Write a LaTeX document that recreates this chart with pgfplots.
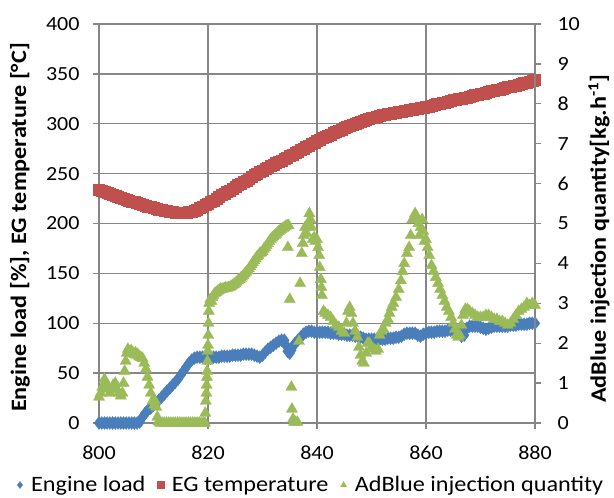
\documentclass[border=0pt]{standalone}
\usepackage{fontspec}
\setmainfont{Carlito}[FakeStretch=1.1]
\usepackage{pgfplots}
\pgfplotsset{compat=1.18}
\definecolor{gridgray}{RGB}{134,134,134}
\definecolor{cblue}{RGB}{74,126,187}
\definecolor{cred}{RGB}{192,80,77}
\definecolor{cgreen}{RGB}{155,187,89}
\newcommand\fs{\fontsize{20bp}{24bp}\selectfont}
\newcommand\fl{\fontsize{22bp}{26bp}\selectfont}
\newcommand\fg{\fontsize{22bp}{26bp}\selectfont}

\pgfplotstableread{
x y
800 0
800.5 0
801 0
801.5 0
802 0
802.5 0
803 0
803.5 0
804 0
804.5 0
805 0
805.5 0
806 0
806.5 0
807 0
807.5 1
808 6
808.5 10
809 13
809.5 15
810 18
810.5 20
811 23
811.5 26
812 29
812.5 32
813 35
813.5 38
814 41
814.5 44
815 48
815.5 52
816 56
816.5 60
817 63
817.5 65
818 66
818.5 66
819 66
819.5 65
820 65
820.5 65
821 66
821.5 66
822 66
822.5 67
823 67
823.5 67
824 67
824.5 68
825 68
825.5 68
826 68
826.5 69
827 69
827.5 69
828 69
828.5 68
829 67
829.5 66
830 68
830.5 71
831 74
831.5 76
832 78
832.5 80
833 82
833.5 83
834 83
834.3 78
834.6 72
835 70
835.3 73
835.6 77
836 80
836.5 83
837 86
837.5 89
838 91
838.5 92
839 92
839.5 91
840 91
840.5 91
841 91
841.5 91
842 91
842.5 90
843 90
843.5 90
844 89
844.5 89
845 89
845.5 88
846 88
846.5 88
847 87
847.5 87
848 86
848.5 85
849 84
849.5 84
850 84
850.5 84
851 84
851.5 84
852 84
852.5 84
853 85
853.5 85
854 85
854.5 86
855 86
855.5 87
856 89
856.5 90
857 90
857.5 90
858 90
858.5 88
859 87
859.5 89
860 90
860.5 91
861 91
861.5 91
862 92
862.5 92
863 92
863.5 92
864 93
864.5 93
865 93
865.5 93
866 92
866.5 87
867 88
867.5 95
868 97
868.5 97
869 97
869.5 97
870 96
870.5 95
871 94
871.5 95
872 96
872.5 97
873 97
873.5 97
874 97
874.5 97
875 97
875.5 98
876 98
876.5 98
877 99
877.5 99
878 99
878.5 99
879 100
879.5 100
880 100
}\loadtable

\pgfplotstableread{
x y
800 234
800.5 233
801 232
801.5 231
802 230
802.5 229
803 228
803.5 227
804 226
804.5 225
805 224
805.5 223
806 222
806.5 221.5
807 221
807.5 220
808 219
808.5 218
809 217
809.5 216.5
810 216
810.5 215
811 214
811.5 213.5
812 213
812.5 212.5
813 212
813.5 211.5
814 211
814.5 211
815 211
815.5 211
816 211
816.5 211.5
817 212
817.5 213
818 214
818.5 215.5
819 217
819.5 218.5
820 220
820.5 221.5
821 223
821.5 225
822 227
822.5 228.5
823 230
823.5 231.5
824 233
824.5 235
825 237
825.5 238.5
826 240
826.5 241.5
827 243
827.5 245
828 247
828.5 248.5
829 250
829.5 251.5
830 253
830.5 254.5
831 256
831.5 257.5
832 259
832.5 260.5
833 262
833.5 263.5
834 265
834.5 266.5
835 268
835.5 269.5
836 271
836.5 272.5
837 274
837.5 275.5
838 277
838.5 278.5
839 280
839.5 281.5
840 283
840.5 284.5
841 286
841.5 287
842 288
842.5 289.5
843 291
843.5 292
844 293
844.5 294.5
845 296
845.5 297
846 298
846.5 299
847 300
847.5 301
848 302
848.5 303
849 304
849.5 305
850 306
850.5 306.5
851 307
851.5 308
852 309
852.5 309.5
853 310
853.5 310.5
854 311
854.5 311.5
855 312
855.5 312.5
856 313
856.5 313.5
857 314
857.5 314.5
858 315
858.5 315.5
859 316
859.5 316.5
860 317
860.5 317.5
861 318
861.5 319
862 320
862.5 320.5
863 321
863.5 321.5
864 322
864.5 323
865 324
865.5 324.5
866 325
866.5 325.5
867 326
867.5 326.5
868 327
868.5 328
869 329
869.5 329.5
870 330
870.5 330.5
871 331
871.5 332
872 333
872.5 333.5
873 334
873.5 334.5
874 335
874.5 336
875 337
875.5 337.5
876 338
876.5 338.5
877 339
877.5 340
878 341
878.5 341.5
879 342
879.5 343
880 344
}\tempertable

\pgfplotstableread{
x y
800 0.65
800.3 0.75
800.6 0.9
801 1.1
801.3 1.0
801.6 0.85
802 0.75
802.3 0.85
802.6 0.95
803 1.0
803.3 0.85
803.6 0.75
804 0.68
804.3 0.75
804.5 1.0
804.7 1.3
804.9 1.55
805.1 1.75
805.3 1.85
805.5 1.8
805.7 1.78
805.9 1.82
806.1 1.76
806.3 1.75
806.5 1.72
806.7 1.76
806.9 1.7
807.1 1.72
807.3 1.68
807.5 1.66
807.7 1.64
808 1.62
808.3 1.5
808.6 1.35
808.9 1.15
809.2 0.95
809.5 0.75
809.8 0.55
810.1 0.45
810.3 0.55
810.5 0.4
810.7 0.15
810.9 0.03
811.2 0
811.6 0
812 0
812.4 0
812.8 0
813.2 0
813.6 0
814 0
814.4 0
814.8 0
815.2 0
815.6 0
816 0
816.4 0
816.8 0
817.2 0
817.6 0
818 0
818.4 0
818.8 0
819.2 0
819.45 0
819.5 0.25
819.6 0.55
819.7 0.75
819.75 0.95
819.8 1.15
819.85 1.3
819.9 1.55
819.95 1.8
820.0 1.95
820.05 2.2
820.1 2.5
820.15 2.8
820.2 3.0
820.4 3.1
820.6 3.05
820.8 3.15
821 3.2
821.25 3.25
821.5 3.27
821.75 3.3
822 3.32
822.25 3.36
822.5 3.35
822.75 3.36
823 3.37
823.25 3.39
823.5 3.38
823.75 3.4
824 3.4
824.25 3.43
824.5 3.45
824.75 3.47
825 3.5
825.25 3.53
825.5 3.57
825.75 3.6
826 3.63
826.25 3.66
826.5 3.7
826.75 3.74
827 3.78
827.25 3.82
827.5 3.87
827.75 3.92
828 3.97
828.25 4.02
828.5 4.07
828.75 4.12
829 4.17
829.25 4.2
829.5 4.25
829.75 4.27
830 4.3
830.25 4.36
830.5 4.4
830.75 4.45
831 4.5
831.25 4.55
831.5 4.6
831.75 4.64
832 4.67
832.25 4.7
832.5 4.73
832.75 4.77
833 4.8
833.25 4.83
833.5 4.85
833.75 4.88
834 4.9
834.25 4.93
834.5 4.95
834.8 4.95
834.65 4.4
835.0 3.1
835.3 0.9
835.4 0.35
835.6 0.1
835.8 0.02
836.1 0.02
836.4 0.02
836.7 2.05
836.9 3.5
837.2 4.25
837.4 4.5
837.6 4.7
837.8 4.9
838.1 4.75
838.3 5.0
838.6 5.25
838.8 5.1
839.0 4.9
839.2 4.6
839.5 4.65
839.7 4.55
840 4.6
840.2 4.4
840.4 4.2
840.5 3.9
840.7 3.6
840.8 3.4
840.9 3.2
841.2 2.8
841.5 2.75
842 2.7
842.5 2.65
843 2.55
843.5 2.45
844 2.4
844.5 2.3
845 2.25
845.4 2.5
845.7 2.8
846 2.9
846.3 2.75
846.6 2.5
847 2.3
847.4 2.15
847.7 1.9
848 1.7
848.3 1.55
848.6 1.5
849 1.75
849.3 2.0
849.6 2.0
850 1.9
850.4 1.85
850.8 1.8
851.2 1.85
851.5 2.2
851.8 2.3
852.2 2.35
852.6 2.5
853 2.6
853.3 2.75
853.7 2.9
854 3.0
854.5 3.15
855 3.35
855.4 3.57
855.7 3.8
856 4.0
856.5 4.25
856.9 4.4
857.2 4.7
857.5 5.1
858 5.25
858.3 5.15
858.6 5.0
858.8 4.7
859 4.9
859.3 5.1
859.5 4.8
859.7 4.55
860 4.6
860.3 4.4
860.6 4.2
861 3.95
861.4 3.8
861.8 3.65
862.2 3.5
862.6 3.35
863 3.2
863.4 3.05
863.8 2.9
864.2 2.8
864.6 2.65
865 2.5
865.3 2.35
865.6 2.2
865.9 2.15
866.2 2.2
866.5 2.45
866.8 2.7
867.2 2.85
867.6 2.85
868 2.8
868.5 2.75
869 2.7
869.5 2.65
870 2.65
870.5 2.65
871 2.7
871.5 2.7
872 2.65
872.5 2.6
873 2.6
873.5 2.55
874 2.55
874.5 2.5
875 2.45
875.5 2.5
876 2.6
876.5 2.7
877 2.8
877.5 2.85
878 2.9
878.5 3.0
879 2.95
879.5 3.0
880 2.95
}\adbluetable

\pgfplotsset{
  common/.style={
    at={(0,0)}, anchor=south west,
    scale only axis, width=436bp, height=399bp,
    xmin=800, xmax=880, clip=false,
    axis line style={gridgray, line width=1.3bp},
    tick style={gridgray, line width=1.3bp},
    tick align=outside, major tick length=6bp,
    ticklabel style={font=\fs, text=black},
    /pgf/number format/assume math mode=true,
    /pgf/number format/1000 sep={},
  },
  legimg/.style={legend image code/.code={\path (-1bp,0bp) (13bp,0bp); \draw[mark repeat=2,mark phase=2,##1] plot coordinates {(0bp,0bp)(4bp,0bp)(8bp,0bp)};}},
}

\begin{document}
\begin{tikzpicture}
\useasboundingbox (-99bp,-75bp) rectangle (515bp,423bp);
\begin{axis}[
  common,
  ymin=0, ymax=400,
  xtick={800,820,...,880}, ytick={0,50,...,400},
  grid=major, major grid style={gridgray, line width=1.3bp},
  xtick pos=bottom, ytick pos=left,
  yticklabel style={xshift=-10bp},
  xticklabel style={yshift=-13bp},
  ylabel={\bfseries Engine load [\%], EG temperature [°C]},
  ylabel style={font=\fl, at={(axis description cs:-0.181,0.49)}, anchor=center},
]
\addplot[only marks, mark=diamond*, mark size=6.5bp, color=cblue, mark options={line width=0.3bp}] table[x=x,y=y] {\loadtable};
\addplot[only marks, mark=square*, mark size=5.5bp, color=cred, mark options={line width=0.3bp}] table[x=x,y=y] {\tempertable};
\end{axis}
\begin{axis}[
  common,
  ymin=0, ymax=10, ytick={0,1,...,10},
  axis x line=none, axis y line*=right,
  yticklabel style={xshift=13bp},
  ylabel={\bfseries AdBlue injection quantity[kg.h\textsuperscript{-1}]},
  ylabel style={font=\fl, at={(axis description cs:1.147,0.462)}, anchor=center},
  legend columns=-1,
  legend style={draw=none, fill=none, font=\fg, at={(axis description cs:0.484,0)}, anchor=center, yshift=-62bp,
    /tikz/every even column/.append style={column sep=8bp}},
  legend image post style={mark size=3.5bp},
]
\addlegendimage{only marks, mark=diamond*, color=cblue, legimg}
\addlegendentry{Engine load}
\addlegendimage{only marks, mark=square*, color=cred, legimg}
\addlegendentry{EG temperature}
\addplot[only marks, mark=triangle*, mark size=6.5bp, color=cgreen, mark options={line width=0.3bp}, legimg] table[x=x,y=y] {\adbluetable};
\addlegendentry{AdBlue injection quantity}
\end{axis}
\end{tikzpicture}
\end{document}
